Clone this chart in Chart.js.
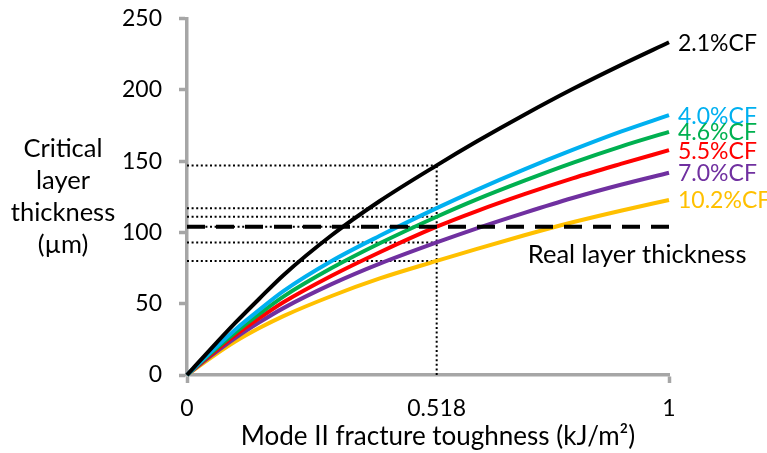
<!DOCTYPE html>
<html><head><meta charset="utf-8">
<script src="https://cdn.jsdelivr.net/npm/chart.js@4.4.0/dist/chart.umd.min.js"></script>
<style>html,body{margin:0;padding:0;background:#fff}</style>
</head><body>
<canvas id="c" width="767" height="453"></canvas>
<script>
// ---- data ----
const toughness = [0, 0.05, 0.1, 0.15, 0.2, 0.3, 0.4, 0.518, 0.6, 0.7, 0.8, 0.9, 1];
const cf21  = [0, 18.5, 36.5, 53.5, 70, 98, 122, 147, 163.5, 182.5, 200.5, 217.3, 233.3];
const cf40  = [0, 16.3, 31.8, 45.7, 58.8, 79.9, 97.6, 117, 129.7, 144.2, 157.8, 170.6, 182.2];
const cf46  = [0, 15.4, 29.7, 42.8, 55, 75, 92.4, 111, 123, 136.3, 148.8, 160.2, 170.5];
const cf55  = [0, 14.4, 27.9, 39.9, 51, 69.6, 86.1, 104, 114.8, 126.8, 137.9, 148, 157.7];
const cf70  = [0, 13.5, 25.9, 36.9, 46.9, 63.7, 78.1, 93, 102.7, 113.7, 124.1, 133.4, 141.8];
const cf102 = [0, 12.2, 23.4, 32.9, 41.3, 55.4, 67.7, 80, 88.3, 98, 107.1, 115.2, 122.7];
const seriesNames = ['2.1%CF', '4.0%CF', '4.6%CF', '5.5%CF', '7.0%CF', '10.2%CF'];
const seriesColors = ['#000000', '#00b0f0', '#00b050', '#ff0000', '#7030a0', '#ffc000'];
const markerX = 0.518;
const valuesAtMarker = [147, 117, 111, 104, 93, 80];
const realThickness = 104;
const realLabel = 'Real layer thickness';
const xTicks = [0, 0.518, 1];
const xTickLabels = ['0', '0.518', '1'];
const yTicks = [0, 50, 100, 150, 200, 250];
const xTitle = 'Mode II fracture toughness (kJ/m²)';
const yTitleLines = ['Critical', 'layer', 'thickness', '(µm)'];

const FONT = 'Lato';
const FS = 23;
const FS_TITLE = 25.5;
const GRAY = '#a6a6a6';

const allSeries = [cf21, cf40, cf46, cf55, cf70, cf102];
const datasets = [];
// dashed real thickness line (on top)
datasets.push({
  data: [{x: 0, y: realThickness}, {x: 1, y: realThickness}],
  borderColor: '#000', borderWidth: 4, borderDash: [18, 11], order: 0,
  pointRadius: 0, showLine: true, fill: false, clip: false
});
allSeries.forEach((s, i) => {
  datasets.push({
    label: seriesNames[i],
    data: toughness.map((x, j) => ({x, y: s[j]})),
    borderColor: seriesColors[i], borderWidth: 4, order: 1 + i,
    pointRadius: 0, showLine: true, fill: false, clip: false,
    cubicInterpolationMode: 'monotone'
  });
});
// dotted guide lines
valuesAtMarker.forEach((v, i) => {
  datasets.push({
    data: [{x: 0, y: v}, {x: markerX, y: v}],
    borderColor: '#000', borderWidth: 2, borderDash: [2, 2.6], order: 20 + i,
    pointRadius: 0, showLine: true, fill: false, clip: false
  });
});
datasets.push({
  data: [{x: markerX, y: 0}, {x: markerX, y: Math.max(...valuesAtMarker)}],
  borderColor: '#000', borderWidth: 2, borderDash: [2, 2.6], order: 30,
  pointRadius: 0, showLine: true, fill: false, clip: false
});

const textPlugin = {
  id: 'texts',
  afterDraw(chart) {
    const {ctx, chartArea: a, scales: {x, y}} = chart;
    ctx.save();
    ctx.textBaseline = 'middle';
    // series labels at the line ends
    ctx.font = `${FS}px ${FONT}`;
    ctx.textAlign = 'left';
    allSeries.forEach((s, i) => {
      ctx.fillStyle = seriesColors[i];
      ctx.fillText(seriesNames[i], x.getPixelForValue(1) + 9, y.getPixelForValue(s[s.length - 1]) + 1);
    });
    // real layer thickness label
    ctx.font = `${FS_TITLE}px ${FONT}`;
    ctx.fillStyle = '#000';
    ctx.fillText(realLabel, x.getPixelForValue(0.707), y.getPixelForValue(realThickness) + 28);
    // y title
    ctx.textAlign = 'center';
    const cy = (a.top + a.bottom) / 2;
    const lh = 32.3;
    yTitleLines.forEach((t, i) => {
      ctx.fillText(t, 63, cy + (i - (yTitleLines.length - 1) / 2) * lh);
    });
    // x title
    ctx.font = `26px ${FONT}`;
    ctx.fillText(xTitle, (a.left + a.right) / 2 + 10, 437);
    ctx.restore();
  }
};

new Chart(document.getElementById('c'), {
  type: 'scatter',
  data: {datasets},
  options: {
    responsive: false, animation: false, devicePixelRatio: 1,
    layout: {padding: {left: 0, right: 98, top: 18.5, bottom: 0}},
    plugins: {legend: {display: false}, tooltip: {enabled: false}},
    scales: {
      x: {
        type: 'linear', min: 0, max: 1,
        afterBuildTicks: s => { s.ticks = xTicks.map(v => ({value: v})); },
        afterFit: s => { s.height = 78; s.paddingLeft = 0; s.paddingRight = 0; },
        ticks: {
          color: '#000', font: {family: FONT, size: FS}, padding: 12,
          maxRotation: 0, autoSkip: false,
          callback: (v) => xTickLabels[xTicks.indexOf(v)] ?? ''
        },
        grid: {
          drawOnChartArea: false, drawTicks: true, tickLength: 8, tickWidth: 3.5,
          tickColor: c => (c.tick && c.tick.value === markerX) ? 'rgba(0,0,0,0)' : GRAY
        },
        border: {display: true, color: GRAY, width: 3.5}
      },
      y: {
        type: 'linear', min: 0, max: 250,
        afterBuildTicks: s => { s.ticks = yTicks.map(v => ({value: v})); },
        afterFit: s => { s.width = 187; s.paddingTop = 0; s.paddingBottom = 0; },
        ticks: {color: '#000', font: {family: FONT, size: FS}, padding: 17},
        grid: {drawOnChartArea: false, drawTicks: true, tickLength: 8, tickWidth: 3.5, tickColor: GRAY},
        border: {display: true, color: GRAY, width: 3.5}
      }
    }
  },
  plugins: [textPlugin]
});
</script>
</body></html>
